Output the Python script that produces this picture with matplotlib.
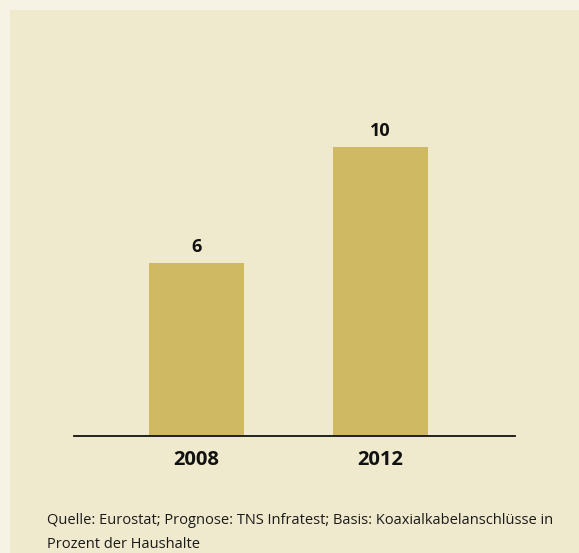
import matplotlib.pyplot as plt
from matplotlib.patches import Rectangle

years = ["2008", "2012"]
shares = [6, 10]
source_note = ("Quelle: Eurostat; Prognose: TNS Infratest; Basis: Koaxialkabelanschlüsse in\n"
               "Prozent der Haushalte")

bg_outer = "#f7f3e4"
bg_inner = "#efe9cd"
bar_color = "#cfb962"

plt.rcParams["font.family"] = ["Open Sans", "DejaVu Sans"]

W, H = 579, 553
fig = plt.figure(figsize=(W / 100, H / 100), dpi=100)
fig.patch.set_facecolor(bg_outer)

# inner panel, offset from the top-left by a light strip
fig.patches.append(Rectangle((10 / W, 0), 1 - 10 / W, 1 - 10 / H,
                             transform=fig.transFigure, facecolor=bg_inner,
                             edgecolor="none", zorder=-1))

ax = fig.add_axes([74 / W, 1 - 436 / H, (515 - 74) / W, (436 - 60) / H])
ax.set_facecolor("none")

x = range(len(years))
bars = ax.bar(x, shares, width=0.516, color=bar_color, zorder=2)
for b, v in zip(bars, shares):
    ax.annotate(str(v), (b.get_x() + b.get_width() / 2, v),
                xytext=(0, 5), textcoords="offset points",
                ha="center", va="bottom", fontsize=13, fontweight="bold",
                color="#111111")

ax.set_xlim(-0.666, 1.731)
ax.set_ylim(0, 13.03)
ax.set_xticks(list(x))
ax.set_xticklabels(years, fontsize=14.5, fontweight="bold", color="#111111")
ax.tick_params(axis="x", length=0, pad=10)
ax.set_yticks([])
for side in ["top", "right", "left"]:
    ax.spines[side].set_visible(False)
ax.spines["bottom"].set_linewidth(1.3)
ax.spines["bottom"].set_color("#111111")

fig.text(47 / W, 1 - 513 / H, source_note, ha="left", va="top",
         fontsize=10.5, color="#1a1a1a", linespacing=1.8)

fig.savefig("out.png", dpi=100, facecolor=fig.get_facecolor())
